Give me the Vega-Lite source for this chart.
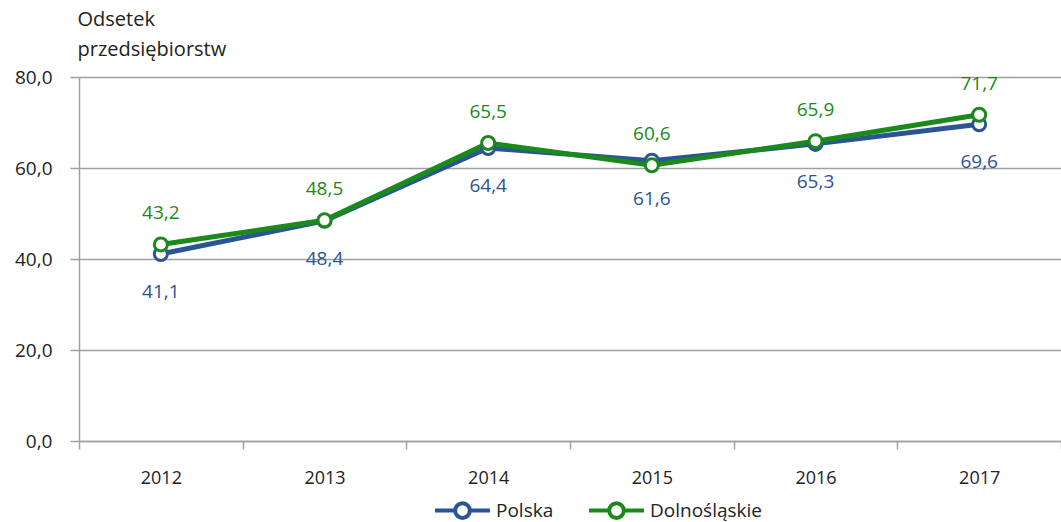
{
  "$schema": "https://vega.github.io/schema/vega-lite/v6.json",
  "width": 982,
  "height": 364,
  "autosize": "none",
  "padding": {"left": 79, "top": 77, "right": 0, "bottom": 81},
  "background": "white",
  "config": {
    "locale": {"number": {"decimal": ",", "thousands": " ", "grouping": [3], "currency": ["", " zł"]}},
    "view": {"stroke": null},
    "font": "Open Sans",
    "axis": {"labelFont": "Open Sans", "titleFont": "Open Sans"},
    "legend": {"labelFont": "Open Sans"}
  },
  "data": {
    "values": [
      {"rok": "2012", "seria": "Polska", "wartosc": 41.1},
      {"rok": "2013", "seria": "Polska", "wartosc": 48.4},
      {"rok": "2014", "seria": "Polska", "wartosc": 64.4},
      {"rok": "2015", "seria": "Polska", "wartosc": 61.6},
      {"rok": "2016", "seria": "Polska", "wartosc": 65.3},
      {"rok": "2017", "seria": "Polska", "wartosc": 69.6},
      {"rok": "2012", "seria": "Dolnośląskie", "wartosc": 43.2},
      {"rok": "2013", "seria": "Dolnośląskie", "wartosc": 48.5},
      {"rok": "2014", "seria": "Dolnośląskie", "wartosc": 65.5},
      {"rok": "2015", "seria": "Dolnośląskie", "wartosc": 60.6},
      {"rok": "2016", "seria": "Dolnośląskie", "wartosc": 65.9},
      {"rok": "2017", "seria": "Dolnośląskie", "wartosc": 71.7}
    ]
  },
  "encoding": {
    "x": {
      "field": "rok",
      "type": "ordinal",
      "scale": {"type": "band", "paddingInner": 0, "paddingOuter": 0},
      "axis": {
        "title": null,
        "labelAngle": 0,
        "tickBand": "extent",
        "grid": false,
        "domainColor": "#a0a0a0",
        "domainWidth": 1.5,
        "tickColor": "#a0a0a0",
        "tickWidth": 1.5,
        "tickSize": 8,
        "labelFontSize": 18,
        "labelColor": "#222222",
        "labelPadding": 20
      }
    },
    "y": {
      "field": "wartosc",
      "type": "quantitative",
      "scale": {"domain": [0, 80]},
      "axis": {
        "values": [0, 20, 40, 60, 80],
        "format": ".1f",
        "title": ["Odsetek", "przedsiębiorstw"],
        "titleAngle": 0,
        "titleAlign": "left",
        "titleBaseline": "top",
        "titleX": -2,
        "titleY": -68,
        "titleFontSize": 20,
        "titleFontWeight": "normal",
        "titleLineHeight": 30,
        "titleColor": "#222222",
        "grid": true,
        "gridColor": "#a0a0a0",
        "gridWidth": 1.5,
        "domainColor": "#a0a0a0",
        "domainWidth": 1.5,
        "tickColor": "#a0a0a0",
        "tickWidth": 1.5,
        "tickSize": 9,
        "labelFontSize": 19,
        "labelColor": "#222222",
        "labelPadding": 18
      }
    }
  },
  "layer": [
    {
      "mark": {"type": "line", "strokeWidth": 5},
      "encoding": {
        "color": {
          "field": "seria",
          "type": "nominal",
          "sort": ["Polska", "Dolnośląskie"],
          "scale": {"domain": ["Polska", "Dolnośląskie"], "range": ["#2B5494", "#1A8A1A"]},
          "legend": {
            "title": null,
            "orient": "none",
            "direction": "horizontal",
            "legendX": 372,
            "legendY": 422,
            "symbolType": "M-3,0H-0.8M0.8,0H3M-0.8,0A0.8,0.8,0,1,0,0.8,0A0.8,0.8,0,1,0,-0.8,0Z",
            "symbolSize": 336,
            "symbolStrokeWidth": 4,
            "symbolFillColor": "white",
            "labelFontSize": 19,
            "labelColor": "#222222",
            "labelOffset": 22,
            "columnPadding": 27,
            "encode": {"symbols": {"update": {"fill": {"value": "white"}}}}
          }
        }
      }
    },
    {
      "mark": {"type": "point", "filled": true, "fill": "white", "size": 170, "strokeWidth": 3, "opacity": 1},
      "encoding": {
        "stroke": {"field": "seria", "type": "nominal", "scale": {"domain": ["Polska", "Dolnośląskie"], "range": ["#2B5494", "#1A8A1A"]}, "legend": null}
      }
    },
    {
      "transform": [{"filter": "datum.seria === 'Polska'"}],
      "mark": {"type": "text", "dy": 38, "fontSize": 19, "color": "#2B5494"},
      "encoding": {"text": {"field": "wartosc", "type": "quantitative", "format": ".1f"}}
    },
    {
      "transform": [{"filter": "datum.seria === 'Dolnośląskie'"}],
      "mark": {"type": "text", "dy": -31, "fontSize": 19, "color": "#1A8A1A"},
      "encoding": {"text": {"field": "wartosc", "type": "quantitative", "format": ".1f"}}
    }
  ]
}
